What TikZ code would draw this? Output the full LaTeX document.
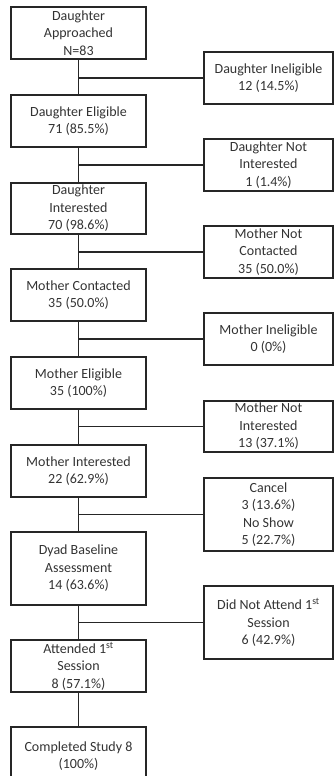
\documentclass[tikz,border=0pt]{standalone}
\usepackage{fontspec}
\setmainfont{Carlito}
\begin{document}
\begin{tikzpicture}[x=1pt,y=-1pt,
  box/.style={draw=black!85, line width=1.2pt, rectangle, align=center, inner sep=0pt,
    font=\fontsize{14}{17.5}\selectfont, text=black!80},
  lbox/.style={box, minimum width=135pt},
  rbox/.style={box, minimum width=129pt},
  conn/.style={draw=black!85, line width=1.2pt}]
\useasboundingbox (0,0) rectangle (334,776);
\node[lbox, minimum height=52pt] (L1) at (78.5,33) {Daughter\\Approached\\N=83};
\node[lbox, minimum height=52pt] (L2) at (78.5,121) {Daughter Eligible\\71 (85.5\%)};
\node[lbox, minimum height=51pt] (L3) at (78.5,208.5) {Daughter\\Interested\\70 (98.6\%)};
\node[lbox, minimum height=52pt] (L4) at (78.5,295) {Mother Contacted\\35 (50.0\%)};
\node[lbox, minimum height=52pt] (L5) at (78.5,383) {Mother Eligible\\35 (100\%)};
\node[lbox, minimum height=52pt] (L6) at (78.5,471) {Mother Interested\\22 (62.9\%)};
\node[lbox, minimum height=73pt] (L7) at (78.5,568.5) {Dyad Baseline\\Assessment\\14 (63.6\%)};
\node[lbox, minimum height=52pt] (L8) at (78.5,666) {Attended 1\textsuperscript{st}\\Session\\8 (57.1\%)};
\node[lbox, minimum height=58pt] (L9) at (78.5,756) {Completed Study 8\\(100\%)};
\node[rbox, minimum height=52pt] (R1) at (268.5,78) {Daughter Ineligible\\12 (14.5\%)};
\node[rbox, minimum height=52pt] (R2) at (268.5,165) {Daughter Not\\Interested\\1 (1.4\%)};
\node[rbox, minimum height=52pt] (R3) at (268.5,252) {Mother Not\\Contacted\\35 (50.0\%)};
\node[rbox, minimum height=52pt] (R4) at (268.5,339) {Mother Ineligible\\0 (0\%)};
\node[rbox, minimum height=51pt] (R5) at (268.5,426.5) {Mother Not\\Interested\\13 (37.1\%)};
\node[rbox, minimum height=73pt] (R6) at (268.5,514.5) {Cancel\\3 (13.6\%)\\No Show\\5 (22.7\%)};
\node[rbox, minimum height=73pt] (R7) at (268.5,622.5) {Did Not Attend 1\textsuperscript{st}\\Session\\6 (42.9\%)};
\foreach \a/\b in {L1/L2,L2/L3,L3/L4,L4/L5,L5/L6,L6/L7,L7/L8,L8/L9}
  \draw[conn] (\a.south) -- (\b.north);
\foreach \l/\r in {L1/R1,L2/R2,L3/R3,L4/R4,L5/R5,L6/R6,L7/R7}
  \draw[conn] (\r.west) -- (\r.west -| \l.south);
\end{tikzpicture}
\end{document}
